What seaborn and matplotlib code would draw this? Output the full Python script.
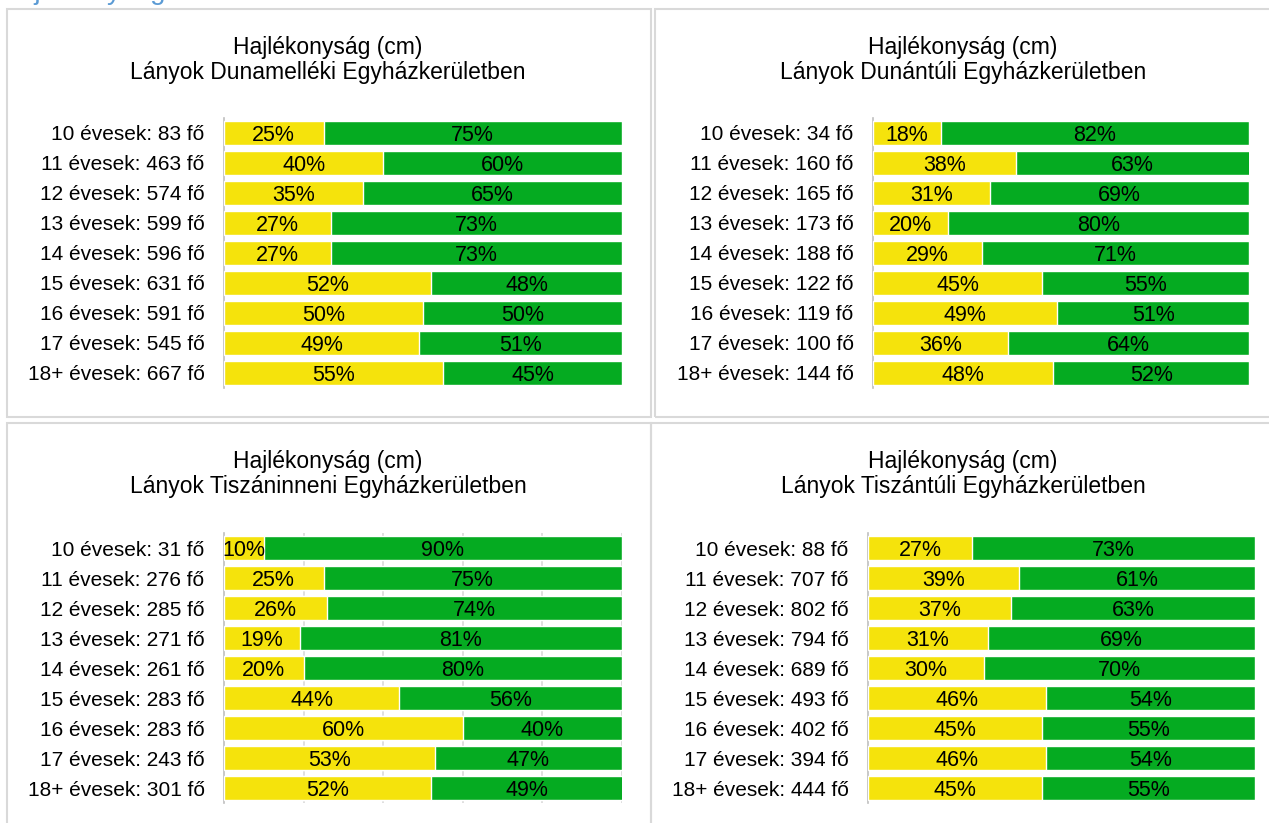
import seaborn as sns
import matplotlib.pyplot as plt
from matplotlib.patches import Rectangle

# Data
ages = ["10", "11", "12", "13", "14", "15", "16", "17", "18+"]

dunamellek_n = [83, 463, 574, 599, 596, 631, 591, 545, 667]
dunamellek_low = [25, 40, 35, 27, 27, 52, 50, 49, 55]
dunamellek_ok = [75, 60, 65, 73, 73, 48, 50, 51, 45]

dunantul_n = [34, 160, 165, 173, 188, 122, 119, 100, 144]
dunantul_low = [18, 38, 31, 20, 29, 45, 49, 36, 48]
dunantul_ok = [82, 63, 69, 80, 71, 55, 51, 64, 52]

tiszaninnen_n = [31, 276, 285, 271, 261, 283, 283, 243, 301]
tiszaninnen_low = [10, 25, 26, 19, 20, 44, 60, 53, 52]
tiszaninnen_ok = [90, 75, 74, 81, 80, 56, 40, 47, 49]

tiszantul_n = [88, 707, 802, 794, 689, 493, 402, 394, 444]
tiszantul_low = [27, 39, 37, 31, 30, 46, 45, 46, 45]
tiszantul_ok = [73, 61, 63, 69, 70, 54, 55, 54, 55]

districts = ["Dunamelléki", "Dunántúli", "Tiszáninneni", "Tiszántúli"]

YELLOW = "#F5E30C"
GREEN = "#05AB21"
BORDER = "#D9D9D9"
FONT = ["Liberation Sans", "DejaVu Sans"]

sns.set_theme(style="white")
plt.rcParams["font.family"] = FONT
plt.rcParams["text.color"] = "black"
plt.rcParams["ytick.color"] = "black"

W, H = 1269, 823
fig = plt.figure(figsize=(W / 100, H / 100), dpi=100)


def px(x0, y0, x1, y1):
    # pixel box (top-left origin) -> figure fraction rect
    return [x0 / W, 1 - y1 / H, (x1 - x0) / W, (y1 - y0) / H]


# panel frames
for (x0, y0, x1, y1) in [(7, 9, 651, 417), (655, 9, 1275, 417),
                         (7, 423, 651, 830), (651, 423, 1275, 830)]:
    fig.patches.append(Rectangle((x0 / W, 1 - y1 / H), (x1 - x0) / W, (y1 - y0) / H,
                                 transform=fig.transFigure, fill=False,
                                 edgecolor=BORDER, linewidth=1.5))

# heading cut off at the top of the page (only its descenders show)
fig.text(0.0, 1 + 1 / H, "Hajlékonyság", color="#5B9BD5", fontsize=20,
         va="baseline", ha="left")

panels = [
    (dunamellek_n, dunamellek_low, dunamellek_ok, (224, 118, 622, 388), 328, 60, False),
    (dunantul_n, dunantul_low, dunantul_ok, (873, 118, 1249, 388), 963, 60, False),
    (tiszaninnen_n, tiszaninnen_low, tiszaninnen_ok, (224, 533, 622, 803), 328, 474, True),
    (tiszantul_n, tiszantul_low, tiszantul_ok, (868, 533, 1255, 803), 963, 474, False),
]

for name, (n, low, ok, box, tx, ty, grid) in zip(districts, panels):
    ax = fig.add_axes(px(*box))
    labels = [f"{a} évesek: {c} fő" for a, c in zip(ages, n)]
    totals = [a + b for a, b in zip(low, ok)]

    if grid:
        for g in [20, 40, 60, 80, 100]:
            ax.axvline(g, color=BORDER, linewidth=1.2, zorder=0)

    sns.barplot(x=totals, y=labels, color=GREEN, saturation=1, width=0.8,
                orient="h", errorbar=None, ax=ax, zorder=2)
    sns.barplot(x=low, y=labels, color=YELLOW, saturation=1, width=0.8,
                orient="h", errorbar=None, ax=ax, zorder=3)

    ax.set_xlim(0, 100)
    ax.set_ylim(8.5, -0.5)
    ax.set_xlabel("")
    ax.set_ylabel("")
    ax.set_xticks([])
    ax.tick_params(axis="y", length=0, pad=14, labelsize=15, labelcolor="black")
    for s in ["top", "right", "bottom"]:
        ax.spines[s].set_visible(False)
    ax.spines["left"].set_color("#BFBFBF")
    ax.spines["left"].set_linewidth(1.2)

    for i, (a, b) in enumerate(zip(low, ok)):
        ax.text(a / 2, i, f"{a}%", ha="center", va="center_baseline",
                fontsize=15.5, color="black", zorder=5)
        ax.text(a + (100 - a) / 2, i, f"{b}%", ha="center", va="center_baseline",
                fontsize=15.5, color="black", zorder=5)

    fig.text(tx / W, 1 - ty / H,
             f"Hajlékonyság (cm)\nLányok {name} Egyházkerületben",
             ha="center", va="center", fontsize=16.5, linespacing=1.15,
             color="black")

fig.savefig("out.png", dpi=100)
